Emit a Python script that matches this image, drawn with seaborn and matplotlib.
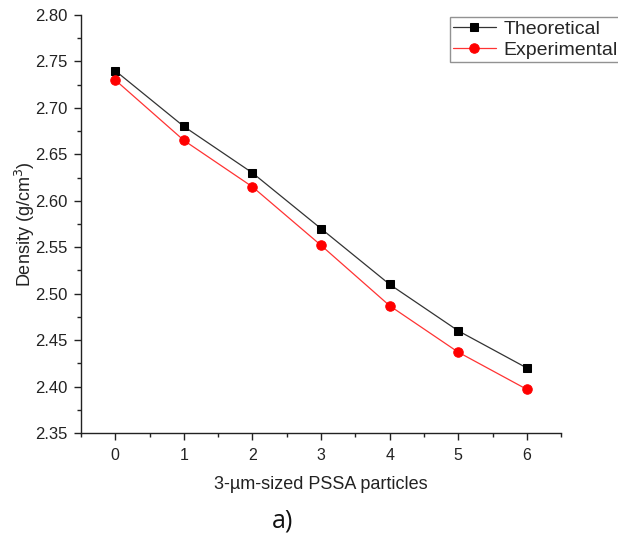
import matplotlib
matplotlib.use("Agg")
import matplotlib.pyplot as plt
from matplotlib.ticker import MultipleLocator, FormatStrFormatter
import seaborn as sns
import pandas as pd

# PSSA particle loading (x) and measured / predicted densities
particles = [0, 1, 2, 3, 4, 5, 6]
theoretical = [2.74, 2.68, 2.63, 2.57, 2.51, 2.46, 2.42]
experimental = [2.730, 2.665, 2.615, 2.552, 2.487, 2.437, 2.397]

sns.set_style("ticks")
plt.rcParams["font.family"] = ["Liberation Sans", "DejaVu Sans"]

fig = plt.figure(figsize=(6.18, 5.33), dpi=100)
ax = fig.add_axes([0.131, 0.1876, 0.777, 0.7843])

df_t = pd.DataFrame({"x": particles, "y": theoretical})
df_e = pd.DataFrame({"x": particles, "y": experimental})

sns.lineplot(data=df_t, x="x", y="y", ax=ax, color="#333333", lw=0.9,
             marker="s", markersize=6, markerfacecolor="black",
             markeredgecolor="black", label="Theoretical")
sns.lineplot(data=df_e, x="x", y="y", ax=ax, color="#ff3333", lw=0.9,
             marker="o", markersize=6.8, markerfacecolor="red",
             markeredgecolor="red", label="Experimental")

ax.set_xlim(-0.5, 6.5)
ax.set_ylim(2.35, 2.80)
ax.xaxis.set_major_locator(MultipleLocator(1))
ax.xaxis.set_minor_locator(MultipleLocator(0.5))
ax.yaxis.set_major_locator(MultipleLocator(0.05))
ax.yaxis.set_minor_locator(MultipleLocator(0.025))
ax.yaxis.set_major_formatter(FormatStrFormatter("%.2f"))

for side in ("top", "right"):
    ax.spines[side].set_visible(False)
for side in ("left", "bottom"):
    ax.spines[side].set_color("#222222")
    ax.spines[side].set_linewidth(1.0)

ax.tick_params(which="major", direction="out", length=5, width=1,
               colors="#222222")
ax.tick_params(which="minor", direction="out", length=3, width=1,
               colors="#222222")
ax.tick_params(axis="y", which="major", labelsize=12, pad=5)
ax.tick_params(axis="x", which="major", labelsize=11.5, pad=6)

ax.set_xlabel("3-µm-sized PSSA particles", fontsize=13, color="#222222",
              labelpad=9.5)
ax.set_ylabel("Density (g/cm$^3$)", fontsize=13, color="#222222",
              labelpad=-2)

# legend box sits at the top right and runs past the figure edge
leg = ax.legend(loc="upper left", bbox_to_anchor=(0.728, 0.968),
                bbox_transform=fig.transFigure, fontsize=14,
                frameon=True, fancybox=False, edgecolor="#777777",
                borderpad=0.15, handlelength=2.2, handletextpad=0.4,
                labelspacing=0.2, borderaxespad=0)
leg.get_frame().set_linewidth(1.0)

fig.text(0.458, 0.0225, "a)", fontsize=18, family=["Open Sans", "DejaVu Sans"],
         ha="center", va="center", color="#111111")

fig.savefig("out.png", dpi=100)
